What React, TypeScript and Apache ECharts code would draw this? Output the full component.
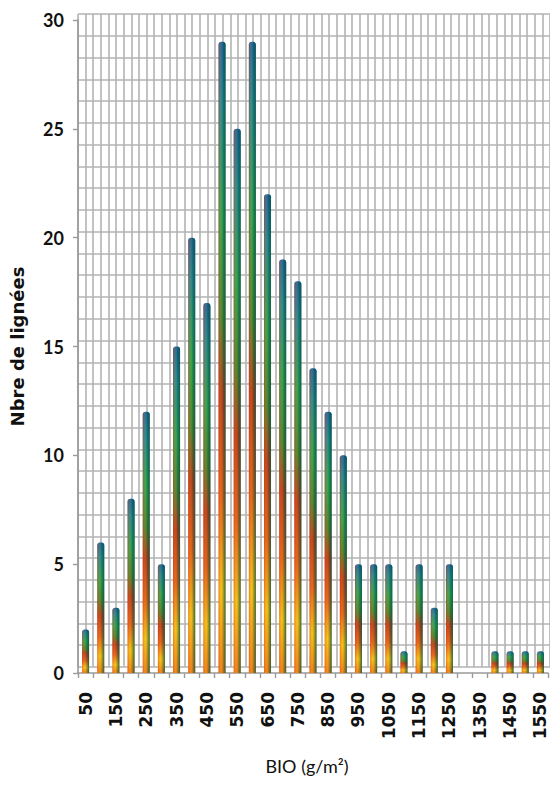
import React, { useEffect, useRef } from "react";
import * as echarts from "echarts";

// Class midpoints of the BIO distribution (g/m²)
const bioClasses: string[] = [
  "50", "100", "150", "200", "250", "300", "350", "400", "450", "500",
  "550", "600", "650", "700", "750", "800", "850", "900", "950", "1000",
  "1050", "1100", "1150", "1200", "1250", "1300", "1350", "1400", "1450", "1500", "1550",
];

// Number of lines per class
const lineCounts: number[] = [
  2, 6, 3, 8, 12, 5, 15, 20, 17, 29,
  25, 29, 22, 19, 18, 14, 12, 10, 5, 5,
  5, 1, 5, 3, 5, 0, 0, 1, 1, 1, 1,
];

const yAxisTitle = "Nbre de lignées";
const xAxisTitle = "BIO (g/m²)";

const WIDE = "'DejaVu Sans', 'Open Sans', sans-serif";
const NARROW = "Lato, 'Open Sans', sans-serif";

export default function App() {
  const ref = useRef<HTMLDivElement>(null);

  useEffect(() => {
    if (!ref.current) return;
    const chart = echarts.init(ref.current, null, { renderer: "svg" });

    const gridColor = "#b3b3b3";

    // vertical fill: blue cap, green, red, yellow/orange at the base
    const bodyFill = new echarts.graphic.LinearGradient(0, 0, 0, 1, [
      { offset: 0, color: "#0e5aa6" },
      { offset: 0.1, color: "#137e9c" },
      { offset: 0.28, color: "#1f9b58" },
      { offset: 0.44, color: "#3d7a34" },
      { offset: 0.56, color: "#b3311c" },
      { offset: 0.72, color: "#e0561a" },
      { offset: 0.87, color: "#f4c01a" },
      { offset: 1, color: "#ee7a18" },
    ]);

    // horizontal shading for the cylinder look
    const shade = new echarts.graphic.LinearGradient(1, 0, 0, 0, [
      { offset: 0, color: "rgba(16,88,58,0.85)" },
      { offset: 0.35, color: "rgba(16,88,58,0.25)" },
      { offset: 0.6, color: "rgba(255,210,30,0.15)" },
      { offset: 1, color: "rgba(220,50,20,0.45)" },
    ]);

    chart.setOption({
      animation: false,
      backgroundColor: "#ffffff",
      grid: [
        // back wall, pushed up and right for depth
        { left: 78, top: 14, width: 474, height: 653 },
        // front plane holding the bars and the labelled axes
        { left: 74, top: 20, width: 474, height: 653 },
      ],
      title: {
        text: xAxisTitle,
        left: 307,
        top: 757,
        textAlign: "center",
        padding: 0,
        textStyle: { fontFamily: NARROW, fontSize: 18, fontWeight: "normal", color: "#111" },
      },
      xAxis: [
        {
          gridIndex: 0,
          type: "value",
          min: 0,
          max: 62,
          interval: 1,
          axisLabel: { show: false },
          axisTick: { show: false },
          axisLine: { show: false },
          splitLine: { show: true, lineStyle: { color: gridColor, width: 1.6 } },
        },
        {
          gridIndex: 1,
          type: "category",
          data: bioClasses,
          boundaryGap: true,
          axisLine: { show: true, lineStyle: { color: "#9a9a9a", width: 1.6 } },
          axisTick: { show: true, interval: 0, length: 5, lineStyle: { color: "#9a9a9a", width: 1.4 } },
          axisLabel: {
            interval: 1,
            rotate: 90,
            margin: 19,
            fontFamily: WIDE,
            fontWeight: "bold",
            fontSize: 17,
            lineHeight: 14,
            color: "#111",
          },
          splitLine: { show: false },
        },
      ],
      yAxis: [
        {
          gridIndex: 0,
          type: "value",
          min: 0,
          max: 30,
          interval: 1,
          axisLabel: { show: false },
          axisTick: { show: false },
          axisLine: { show: false },
          splitLine: { show: true, lineStyle: { color: gridColor, width: 1.6 } },
        },
        {
          gridIndex: 1,
          type: "value",
          min: 0,
          max: 30,
          interval: 5,
          name: yAxisTitle,
          nameLocation: "middle",
          nameGap: 52,
          nameTextStyle: { fontFamily: WIDE, fontSize: 18, fontWeight: "bold", color: "#111" },
          axisLine: { show: true, lineStyle: { color: "#9a9a9a", width: 1.6 } },
          axisTick: { show: true, length: 5, lineStyle: { color: "#9a9a9a", width: 1.4 } },
          axisLabel: {
            margin: 14,
            fontFamily: NARROW,
            fontWeight: "bold",
            fontSize: 18,
            color: "#111",
          },
          splitLine: { show: false },
        },
      ],
      series: [
        {
          type: "bar",
          xAxisIndex: 1,
          yAxisIndex: 1,
          data: lineCounts,
          barWidth: 7,
          itemStyle: { color: bodyFill, borderRadius: [3, 3, 0, 0] },
        },
        {
          type: "bar",
          xAxisIndex: 1,
          yAxisIndex: 1,
          data: lineCounts,
          barWidth: 7,
          barGap: "-100%",
          silent: true,
          itemStyle: { color: shade, borderRadius: [3, 3, 0, 0] },
        },
      ],
    });

    return () => chart.dispose();
  }, []);

  return (
    <div
      ref={ref}
      style={{ position: "absolute", left: 0, top: 0, width: 550, height: 789 }}
    />
  );
}
